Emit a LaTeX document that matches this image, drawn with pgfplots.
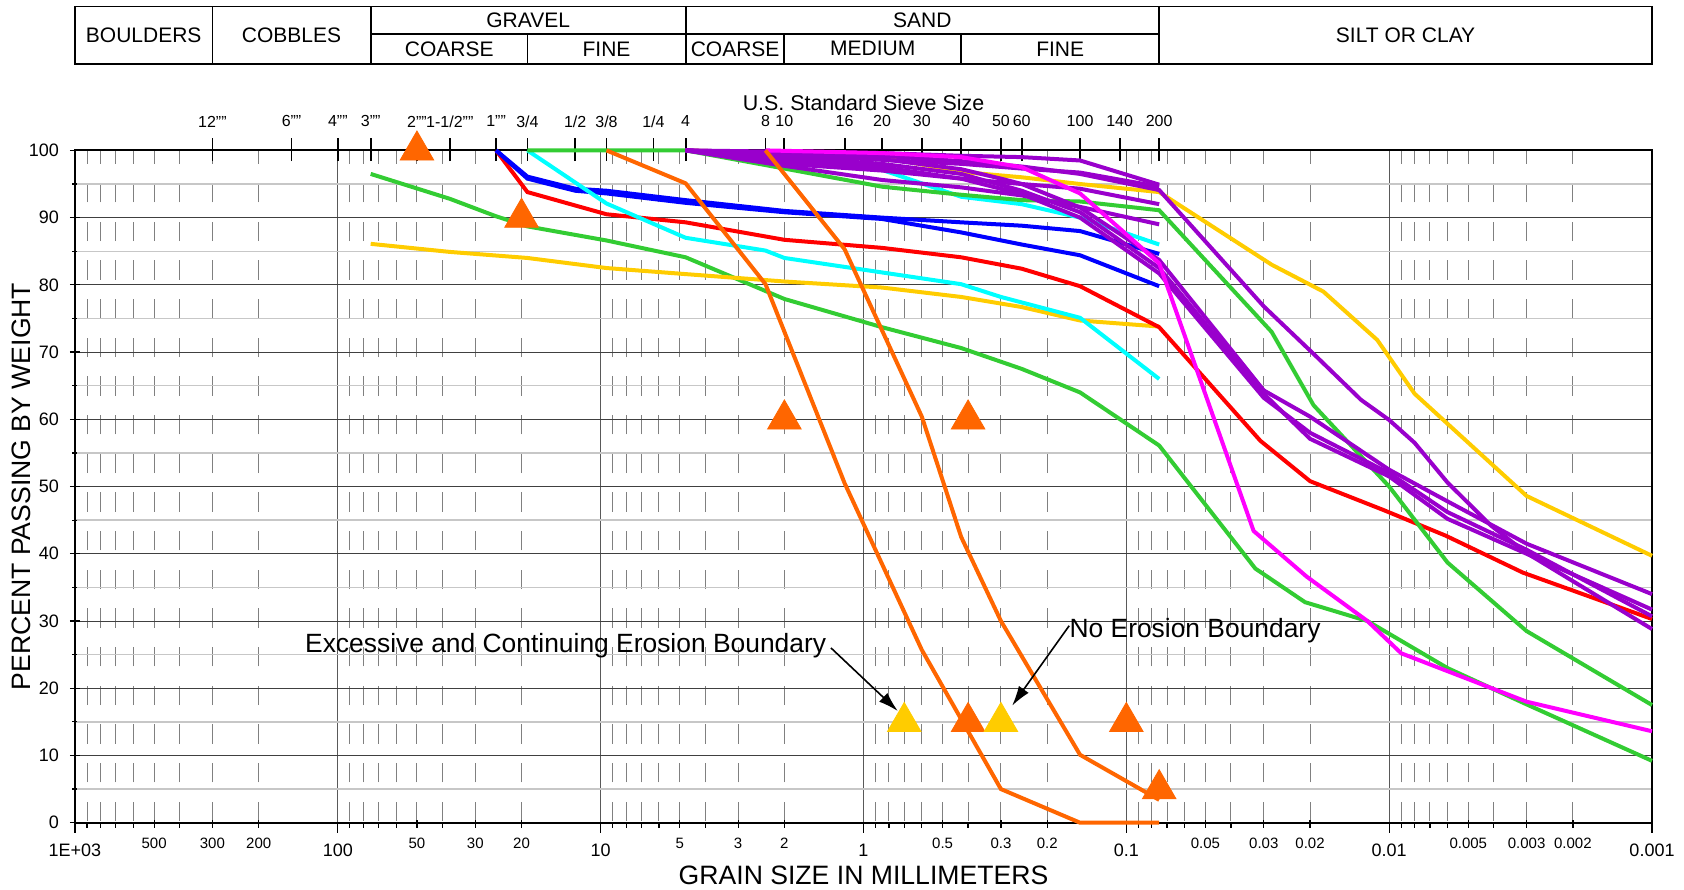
\documentclass[border=0pt]{standalone}
\usepackage{fontspec}
\setmainfont{Liberation Sans}
\usepackage{pgfplots}
\pgfplotsset{compat=1.18}
\usetikzlibrary{arrows.meta}

\definecolor{cOrange}{RGB}{255,102,0}
\definecolor{cRed}{RGB}{255,0,0}
\definecolor{cBlue}{RGB}{0,0,255}
\definecolor{cCyan}{RGB}{0,255,255}
\definecolor{cGreen}{RGB}{51,204,51}
\definecolor{cYellow}{RGB}{255,204,0}
\definecolor{cPurple}{RGB}{153,0,204}
\definecolor{cMagenta}{RGB}{255,0,255}

\newcommand{\sieve}[2]{%
  \draw[line width=0.9pt] (axis cs:#1,98.4) -- (axis cs:#1,101.8);
  \node[font=\fontsize{8}{9}\selectfont, inner sep=0pt] at (axis cs:#1,104.3) {#2};}
\newcommand{\hdr}[3]{\node[font=\fontsize{10.5}{12}\selectfont, inner sep=0pt] at (axis cs:#1,#2) {#3};}

\begin{document}
\begin{tikzpicture}
\begin{axis}[
  scale only axis, width=788.5pt, height=336.15pt,
  xmode=log, x dir=reverse, xmin=0.001, xmax=1000, ymin=0, ymax=100,
  clip=false,
  axis line style={line width=1.1pt, black},
  xtick={1000,100,10,1,0.1,0.01,0.001},
  xticklabels={1E+03,100,10,1,0.1,0.01,0.001},
  minor xtick={0.002,0.003,0.004,0.005,0.006,0.007,0.008,0.009,
    0.02,0.03,0.04,0.05,0.06,0.07,0.08,0.09,
    0.2,0.3,0.4,0.5,0.6,0.7,0.8,0.9,
    2,3,4,5,6,7,8,9,20,30,40,50,60,70,80,90,
    200,300,400,500,600,700,800,900},
  extra x ticks={500,300,200,50,30,20,5,3,2,0.5,0.3,0.2,0.05,0.03,0.02,0.005,0.003,0.002},
  extra x tick labels={500,300,200,50,30,20,5,3,2,0.5,0.3,0.2,0.05,0.03,0.02,0.005,0.003,0.002},
  extra x tick style={grid=none, major tick length=2.5pt, xtick align=center,
     xticklabel style={font=\fontsize{7.5}{8}\selectfont, yshift=-1pt}},
  xticklabel style={font=\fontsize{9}{10}\selectfont, yshift=-2pt},
  ytick={0,10,...,100},
  minor ytick={5,15,...,95},
  yticklabel style={font=\fontsize{9}{10}\selectfont, xshift=-2pt},
  /pgf/number format/assume math mode=true,
  xtick pos=bottom, ytick pos=left,
  xtick align=outside, ytick align=center,
  major tick length=5pt, minor tick length=2.5pt,
  tick style={black, line width=0.6pt},
  grid=both,
  major x grid style={draw=black!65, line width=0.5pt},
  major y grid style={draw=black!75, line width=0.5pt},
  minor y grid style={draw=black!22, line width=0.7pt},
  minor x grid style={draw=black!50, line width=0.5pt, dash pattern=on 9.75pt off 9.58pt, dash phase=18.49pt},
]
% header table
\draw[line width=0.9pt] (axis cs:1000,112.9) rectangle (axis cs:0.001,121.4);
\draw[line width=0.9pt] (axis cs:300,112.9) -- (axis cs:300,121.4);
\draw[line width=0.9pt] (axis cs:75,112.9) -- (axis cs:75,121.4);
\draw[line width=0.9pt] (axis cs:4.75,112.9) -- (axis cs:4.75,121.4);
\draw[line width=0.9pt] (axis cs:0.075,112.9) -- (axis cs:0.075,121.4);
\draw[line width=0.9pt] (axis cs:75,117.3) -- (axis cs:0.075,117.3);
\draw[line width=0.9pt] (axis cs:19,112.9) -- (axis cs:19,117.3);
\draw[line width=0.9pt] (axis cs:2,112.9) -- (axis cs:2,117.3);
\draw[line width=0.9pt] (axis cs:0.425,112.9) -- (axis cs:0.425,117.3);
\hdr{547.7}{117.15}{BOULDERS}
\hdr{150}{117.15}{COBBLES}
\hdr{18.87}{119.35}{GRAVEL}
\hdr{37.7}{115.1}{COARSE}
\hdr{9.5}{115.1}{FINE}
\hdr{0.597}{119.35}{SAND}
\hdr{3.08}{115.1}{COARSE}
\hdr{0.922}{115.1}{MEDIUM}
\hdr{0.1785}{115.1}{FINE}
\hdr{0.00866}{117.15}{SILT OR CLAY}
% sieve scale
\sieve{300}{12""}
\sieve{150}{6""}
\sieve{100}{4""}
\sieve{75}{3""}
\sieve{50}{2""}
\sieve{37.5}{1-1/2""}
\sieve{25}{1""}
\sieve{19}{3/4}
\sieve{12.5}{1/2}
\sieve{9.5}{3/8}
\sieve{6.3}{1/4}
\sieve{4.75}{4}
\sieve{2.36}{8}
\sieve{2}{10}
\sieve{1.18}{16}
\sieve{0.85}{20}
\sieve{0.6}{30}
\sieve{0.425}{40}
\sieve{0.3}{50}
\sieve{0.25}{60}
\sieve{0.15}{100}
\sieve{0.106}{140}
\sieve{0.075}{200}
\node[font=\fontsize{10.7}{12}\selectfont] at (axis cs:1,107.1) {U.S. Standard Sieve Size};
\node[font=\fontsize{13.3}{15}\selectfont] at ([yshift=-26.15pt]rel axis cs:0.5,0) {GRAIN SIZE IN MILLIMETERS};
\node[font=\fontsize{13.3}{15}\selectfont, rotate=90] at ([xshift=-26.75pt]rel axis cs:0,0.5) {PERCENT PASSING BY WEIGHT};

% curves
\pgfplotsset{every axis plot/.append style={line width=2pt}}
\addplot[cGreen] coordinates {(75,96.5) (37.5,92.8) (25,90.2) (19,88.7) (9.5,86.6) (4.75,84.1) (2,77.9) (0.85,73.7) (0.425,70.6) (0.25,67.5) (0.15,64.0) (0.075,56.1) (0.0323,37.8) (0.0209,32.8) (0.0121,30.0) (0.006,23.0) (0.003,17.6) (0.001,9.2)};
\addplot[cYellow] coordinates {(75,86.1) (37.5,84.9) (19,84.0) (9.5,82.5) (4.75,81.6) (2,80.5) (0.85,79.6) (0.425,78.2) (0.25,76.7) (0.15,74.7) (0.075,73.8)};
\addplot[cRed] coordinates {(25,100) (19,93.8) (9.5,90.5) (4.75,89.3) (2,86.7) (0.85,85.5) (0.425,84.1) (0.25,82.4) (0.15,79.8) (0.075,73.7) (0.0309,56.8) (0.02,50.8) (0.0105,46.5) (0.0061,42.7) (0.0031,37.2) (0.001,30.3)};
\addplot[cBlue] coordinates {(25,100) (19,96.1) (12.5,94.3) (9.5,94.0) (4.75,92.6) (2,91.0) (0.85,90.0) (0.425,89.3) (0.25,88.8) (0.15,88.0) (0.075,84.6)};
\addplot[cBlue] coordinates {(25,100) (19,95.8) (12.5,94.0) (9.5,93.6) (4.75,92.2) (2,90.8) (0.85,89.8) (0.425,87.8) (0.25,86.0) (0.15,84.4) (0.075,79.8)};
\addplot[cCyan] coordinates {(19,100) (9.5,92.1) (4.75,87.0) (2.36,85.1) (2,84.0) (0.425,80.1) (0.3,78.2) (0.15,75.1) (0.075,66.0)};
\addplot[cCyan] coordinates {(2.36,100) (2,99.2) (1.18,98.2) (0.85,97.1) (0.425,93.1) (0.25,92.0) (0.15,90.0) (0.075,86.0)};
\addplot[cGreen] coordinates {(19,100) (4.75,100) (2,97.3) (0.85,94.6) (0.425,93.4) (0.25,92.6) (0.15,92.4) (0.075,91.1) (0.028,73.0) (0.0194,62.1) (0.01,50.0) (0.006,38.7) (0.003,28.5) (0.001,17.5)};
\addplot[cYellow] coordinates {(4.75,100) (2,99.6) (0.85,99.0) (0.425,96.8) (0.25,96.0) (0.15,95.0) (0.075,93.8) (0.028,83.0) (0.0178,79.0) (0.0111,71.8) (0.008,63.8) (0.003,48.6) (0.001,39.7)};
% purple
\addplot[cPurple] coordinates {(4.75,100) (2,99.8) (0.85,99.6) (0.425,99.2) (0.25,99.0) (0.15,98.5) (0.075,94.9)};
\addplot[cPurple] coordinates {(4.75,100) (2,99.3) (0.85,98.6) (0.425,98.0) (0.25,97.3) (0.15,96.7) (0.075,94.6)};
\addplot[cPurple] coordinates {(4.75,100) (2,98.0) (0.85,97.0) (0.425,95.8) (0.25,95.0) (0.15,94.3) (0.075,92.0)};
\addplot[cPurple] coordinates {(4.75,100) (2,97.7) (0.85,95.6) (0.425,94.5) (0.25,93.3) (0.15,91.6) (0.075,89.0)};
\addplot[cPurple] coordinates {(4.75,100) (2,99.6) (0.85,99.2) (0.425,98.4) (0.25,97.6) (0.15,96.5) (0.075,94.1) (0.03,76.8) (0.019,69.4) (0.0128,62.9) (0.01,59.9) (0.008,56.5) (0.006,50.6) (0.0041,44.2) (0.003,40.1) (0.001,28.8)};
\addplot[cPurple] coordinates {(4.75,100) (2,99.4) (0.85,98.7) (0.425,97.2) (0.3,95.8) (0.25,95.0) (0.15,91.5) (0.075,83.7) (0.03,64.3) (0.02,60.4) (0.01,52.5) (0.006,47.8) (0.003,41.5) (0.001,34.0)};
\addplot[cPurple] coordinates {(4.75,100) (2,99.0) (0.85,98.0) (0.425,96.5) (0.25,94.0) (0.15,90.8) (0.075,82.5) (0.03,63.8) (0.02,57.1) (0.01,51.5) (0.006,45.2) (0.003,40.0) (0.001,31.7)};
\addplot[cPurple] coordinates {(4.75,100) (2,98.5) (0.85,97.5) (0.425,95.8) (0.25,93.5) (0.15,90.0) (0.075,81.7) (0.03,63.2) (0.02,58.0) (0.01,52.0) (0.006,46.2) (0.003,40.6) (0.001,30.7)};
\addplot[cMagenta] coordinates {(2.36,100) (0.85,99.6) (0.425,99.0) (0.25,97.5) (0.15,93.6) (0.075,83.2) (0.0328,43.4) (0.0206,36.6) (0.0121,30.0) (0.009,25.2) (0.003,18.0) (0.001,13.6)};
% orange
\addplot[cOrange] coordinates {(9.5,100) (4.75,95.1) (2.36,80.1) (1.18,50.5) (0.6,25.7) (0.3,5.0) (0.15,0) (0.075,0)};
\addplot[cOrange] coordinates {(2.36,100) (1.18,85.3) (0.6,60.4) (0.425,42.5) (0.3,30.0) (0.15,10.1) (0.075,3.4)};
% boundary markers
\addplot[only marks, mark=triangle*, mark size=9.7pt, mark options={draw=cOrange, fill=cOrange, line width=0.4pt}] coordinates {(50,100) (20,90) (2,60) (0.4,60) (0.4,15) (0.1,15) (0.075,5)};
\addplot[only marks, mark=triangle*, mark size=9.7pt, mark options={draw=cYellow, fill=cYellow, line width=0.4pt}] coordinates {(0.7,15) (0.3,15)};
% annotations
\node[font=\fontsize{13.2}{15}\selectfont, anchor=west, inner sep=0pt] at (axis cs:133.6,26.4) {Excessive and Continuing Erosion Boundary};
\node[font=\fontsize{13.2}{15}\selectfont, anchor=west, inner sep=0pt] at (axis cs:0.165,28.6) {No Erosion Boundary};
\draw[line width=0.8pt, -{Latex[length=10pt,width=6pt]}] (axis cs:1.33,26.0) -- (axis cs:0.74,16.6);
\draw[line width=0.8pt, -{Latex[length=10pt,width=6pt]}] (axis cs:0.165,29.3) -- (axis cs:0.272,17.4);
\end{axis}
\pgfresetboundingbox
\useasboundingbox (-37.5pt,-33.15pt) rectangle (804.5pt,411.35pt);
\end{tikzpicture}
\end{document}
